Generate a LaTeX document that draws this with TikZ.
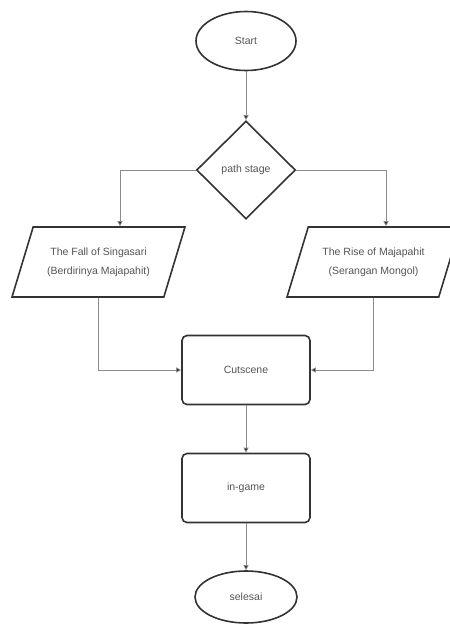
\documentclass[tikz,border=0pt]{standalone}
\usepackage{fontspec}
\setmainfont{Liberation Sans}
\usetikzlibrary{shapes.geometric,arrows.meta}
\definecolor{shapeline}{HTML}{333333}
\definecolor{conn}{HTML}{8A8A8A}
\definecolor{txt}{HTML}{555555}
\begin{document}
\begin{tikzpicture}[x=1pt,y=-1pt,
  base/.style={draw=shapeline,line width=1.6pt,fill=white,text=txt,inner sep=0pt,
    font=\fontsize{10.5}{19}\selectfont,align=center},
  term/.style={base,ellipse},
  decide/.style={base,diamond,minimum width=99pt,minimum height=98pt},
  io/.style={base,trapezium,trapezium left angle=60,trapezium right angle=120,
    trapezium stretches=true,minimum width=173pt,minimum height=70pt},
  proc/.style={base,rounded corners=5pt,minimum width=128pt,minimum height=69pt},
  conn/.style={draw=conn,line width=0.9pt,-{Triangle[width=5pt,length=5pt,fill=black]}}]
\useasboundingbox (0,0) rectangle (450,625);
\node[term,minimum width=100pt,minimum height=59pt] (start) at (246,41) {Start};
\node[decide] (path) at (246,170) {path stage};
\node[io] (fall) at (98.5,262) {The Fall of Singasari\\(Berdirinya Majapahit)};
\node[io] (rise) at (373.5,262) {The Rise of Majapahit\\(Serangan Mongol)};
\node[proc] (cut) at (246,370) {Cutscene};
\node[proc] (game) at (246,488) {in-game};
\node[term,minimum width=102pt,minimum height=52pt] (end) at (246,597) {selesai};
\draw[conn] (start) -- (path);
\draw[conn] (path.west) -| ([xshift=21.5pt]fall.north);
\draw[conn] (path.east) -| ([xshift=12.5pt]rise.north);
\draw[conn] (fall.south) |- (cut.west);
\draw[conn] (rise.south) |- (cut.east);
\draw[conn] (cut) -- (game);
\draw[conn] (game) -- (end);
\end{tikzpicture}
\end{document}
